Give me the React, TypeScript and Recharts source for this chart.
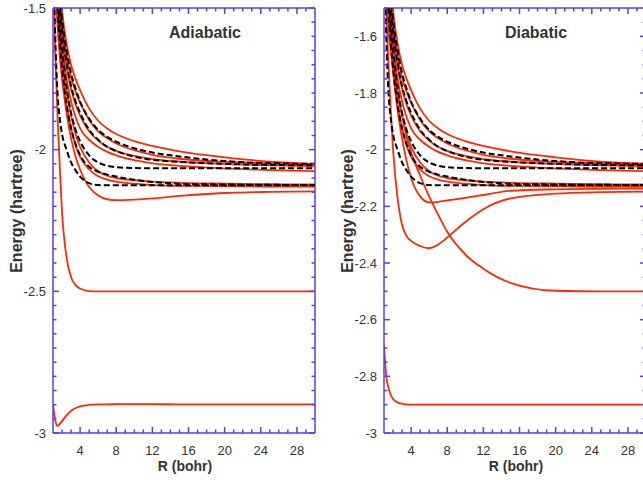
import { LineChart, Line, XAxis, YAxis, ReferenceLine } from 'recharts'

// internuclear distance grid (bohr)
const R = [1, 1.25, 1.5, 1.75, 2, 2.5, 3, 3.5, 4, 5, 6, 7, 8, 10, 12, 15, 20, 25, 30]

// adiabatic-only red curves
const adiaGround = [-2.9, -2.955, -2.975, -2.968, -2.958, -2.938, -2.922, -2.912, -2.906, -2.901, -2.899, -2.899, -2.898, -2.898, -2.898, -2.899, -2.899, -2.899, -2.899]
const adiaIonic = [-1.35, -1.66, -1.88, -2.06, -2.22, -2.38, -2.45, -2.478, -2.49, -2.499, -2.5, -2.5, -2.5, -2.5, -2.5, -2.5, -2.5, -2.5, -2.5]
const adiaWell = [-1.25, -1.42, -1.56, -1.67, -1.75, -1.87, -1.96, -2.025, -2.07, -2.132, -2.162, -2.175, -2.178, -2.176, -2.172, -2.163, -2.153, -2.149, -2.147]

// diabatic-only red curves
const diaGround = [-2.69, -2.8, -2.84, -2.865, -2.88, -2.892, -2.897, -2.899, -2.9, -2.9, -2.9, -2.9, -2.9, -2.9, -2.9, -2.9, -2.9, -2.9, -2.9]
const diaIonic = [-1.3, -1.45, -1.575, -1.65, -1.7, -1.8, -1.88, -1.955, -2.01, -2.092, -2.165, -2.23, -2.29, -2.37, -2.42, -2.47, -2.498, -2.5, -2.5]
const diaDeep = [-1.25, -1.5, -1.7, -1.86, -2.0, -2.17, -2.265, -2.305, -2.322, -2.34, -2.348, -2.335, -2.31, -2.255, -2.21, -2.172, -2.155, -2.15, -2.148]
const diaWell = [-1.2, -1.38, -1.52, -1.63, -1.72, -1.86, -1.96, -2.04, -2.1, -2.165, -2.186, -2.184, -2.179, -2.17, -2.16, -2.145, -2.14, -2.138, -2.137]

// red curves common to both panels
const upperA1 = [-0.95, -1.15, -1.3, -1.42, -1.51, -1.625, -1.7, -1.75, -1.79, -1.855, -1.898, -1.925, -1.945, -1.97, -1.987, -2.006, -2.027, -2.042, -2.05]
const upperA2 = [-0.98, -1.18, -1.33, -1.46, -1.55, -1.665, -1.745, -1.795, -1.835, -1.895, -1.935, -1.96, -1.978, -2.002, -2.018, -2.032, -2.043, -2.048, -2.051]
const upperA3 = [-1.02, -1.22, -1.37, -1.5, -1.59, -1.705, -1.785, -1.84, -1.88, -1.935, -1.968, -1.99, -2.004, -2.022, -2.033, -2.042, -2.05, -2.055, -2.058]
const upperA4 = [-1.08, -1.27, -1.42, -1.54, -1.63, -1.75, -1.83, -1.885, -1.925, -1.965, -1.99, -2.008, -2.02, -2.037, -2.048, -2.057, -2.066, -2.072, -2.076]
const upperB1 = [-1.15, -1.33, -1.47, -1.58, -1.67, -1.79, -1.88, -1.945, -1.99, -2.045, -2.076, -2.092, -2.1, -2.108, -2.113, -2.117, -2.12, -2.122, -2.123]
const upperB2 = [-1.2, -1.38, -1.52, -1.63, -1.72, -1.84, -1.925, -1.985, -2.025, -2.07, -2.094, -2.106, -2.113, -2.12, -2.125, -2.128, -2.129, -2.13, -2.13]

// black dashed curves (same in both panels)
const refA1 = [-0.98, -1.17, -1.32, -1.45, -1.54, -1.65, -1.73, -1.785, -1.83, -1.89, -1.93, -1.955, -1.972, -1.995, -2.01, -2.024, -2.04, -2.048, -2.05]
const refA2 = [-1.03, -1.23, -1.38, -1.5, -1.58, -1.695, -1.775, -1.83, -1.87, -1.93, -1.965, -1.99, -2.005, -2.025, -2.036, -2.043, -2.05, -2.054, -2.055]
const refA3 = [-1.1, -1.3, -1.45, -1.56, -1.64, -1.78, -1.87, -1.93, -1.97, -2.02, -2.045, -2.057, -2.062, -2.065, -2.066, -2.066, -2.066, -2.066, -2.066]
const refB1 = [-1.25, -1.6, -1.8, -1.89, -1.945, -2.0, -2.045, -2.073, -2.095, -2.118, -2.125, -2.126, -2.126, -2.126, -2.126, -2.126, -2.126, -2.126, -2.126]
const refB2 = [-1.15, -1.35, -1.5, -1.62, -1.71, -1.84, -1.925, -1.98, -2.02, -2.06, -2.078, -2.088, -2.095, -2.106, -2.114, -2.12, -2.123, -2.124, -2.125]

const xLabels = [4, 8, 12, 16, 20, 24, 28]
const adiaYLabels = ['-3', '-2.5', '-2', '-1.5']
const diaYLabels = ['-3', '-2.8', '-2.6', '-2.4', '-2.2', '-2', '-1.8', '-1.6']

const xTicks = Array.from({ length: 28 }, (_, i) => i + 2)
const yTicks = Array.from({ length: 31 }, (_, i) => Math.round((-3 + i * 0.05) * 100) / 100)

const AXIS = '#5b3cf2'
const RED = '#ff2a00'
const TEXT = '#333'

const W = 330
const H = 480
const TOP = 8
const LEFT = 53
const RIGHT_M = 15
const XH = 47
const PLOT_R = W - RIGHT_M
const PLOT_B = H - XH

interface Curve {
  key: string
  values: number[]
  dashed?: boolean
}

function Panel({ curves, yLabels }: { curves: Curve[]; yLabels: string[] }) {
  const rows = R.map((r, i) => {
    const row: Record<string, number> = { r }
    curves.forEach((c) => { row[c.key] = c.values[i] })
    return row
  })
  const labelVals = yLabels.map(Number)

  const xTick = (props: any) => {
    const x = props.payload.coordinate
    const v = props.payload.value
    const major = xLabels.includes(v)
    const len = major ? 6 : 3.5
    return (
      <g>
        <line x1={x} x2={x} y1={PLOT_B} y2={PLOT_B - len} stroke={AXIS} strokeWidth={1.5} />
        <line x1={x} x2={x} y1={TOP} y2={TOP + len} stroke={AXIS} strokeWidth={1.5} />
        {major && (
          <text x={x} y={455} textAnchor="middle" fill={TEXT} fontSize={13}>{v}</text>
        )}
      </g>
    )
  }

  const yTick = (props: any) => {
    const y = props.payload.coordinate
    const v = props.payload.value
    const idx = labelVals.findIndex((m) => Math.abs(m - v) < 1e-6)
    const len = idx >= 0 ? 6 : 3.5
    return (
      <g>
        <line x1={LEFT} x2={LEFT + len} y1={y} y2={y} stroke={AXIS} strokeWidth={1.5} />
        <line x1={PLOT_R} x2={PLOT_R - len} y1={y} y2={y} stroke={AXIS} strokeWidth={1.5} />
        {idx >= 0 && (
          <text x={LEFT - 7} y={y} dy="0.35em" textAnchor="end" fill={TEXT} fontSize={13}>{yLabels[idx]}</text>
        )}
      </g>
    )
  }

  return (
    <LineChart width={W} height={H} data={rows} margin={{ top: TOP, right: RIGHT_M, bottom: 0, left: 0 }}>
      <XAxis
        dataKey="r" type="number" domain={[1, 30]} allowDataOverflow
        ticks={xTicks} interval={0} height={XH}
        tickSize={0} tickMargin={0} tickLine={false}
        axisLine={{ stroke: AXIS, strokeWidth: 1.5 }}
        tick={xTick}
      />
      <YAxis
        type="number" domain={[-3, -1.5]} allowDataOverflow
        ticks={yTicks} interval={0} width={LEFT}
        tickSize={0} tickMargin={0} tickLine={false}
        axisLine={{ stroke: AXIS, strokeWidth: 1.5 }}
        tick={yTick}
      />
      <ReferenceLine y={-1.5} stroke={AXIS} strokeWidth={1.5} />
      <ReferenceLine x={30} stroke={AXIS} strokeWidth={1.5} />
      {curves.filter((c) => !c.dashed).map((c) => (
        <Line key={c.key} dataKey={c.key} type="monotone" stroke={RED} strokeWidth={1.8} dot={false} activeDot={false} isAnimationActive={false} />
      ))}
      {curves.filter((c) => c.dashed).map((c) => (
        <Line key={c.key} dataKey={c.key} type="monotone" stroke="#000" strokeWidth={2} strokeDasharray="6 3" dot={false} activeDot={false} isAnimationActive={false} />
      ))}
    </LineChart>
  )
}

const shared: Curve[] = [
  { key: 'A1', values: upperA1 },
  { key: 'A2', values: upperA2 },
  { key: 'A3', values: upperA3 },
  { key: 'A4', values: upperA4 },
  { key: 'B1', values: upperB1 },
  { key: 'B2', values: upperB2 },
  { key: 'rA1', values: refA1, dashed: true },
  { key: 'rA2', values: refA2, dashed: true },
  { key: 'rA3', values: refA3, dashed: true },
  { key: 'rB1', values: refB1, dashed: true },
  { key: 'rB2', values: refB2, dashed: true },
]

const adiabatic: Curve[] = [
  { key: 'ground', values: adiaGround },
  { key: 'ionic', values: adiaIonic },
  { key: 'well', values: adiaWell },
  ...shared,
]

const diabatic: Curve[] = [
  { key: 'ground', values: diaGround },
  { key: 'ionic', values: diaIonic },
  { key: 'deep', values: diaDeep },
  { key: 'well', values: diaWell },
  ...shared,
]

export default function App() {
  const bold = { fontWeight: 700, fill: TEXT }
  return (
    <div style={{ position: 'absolute', left: 0, top: 0, width: 643, height: 480, overflow: 'hidden', background: '#fff', fontFamily: '"Liberation Sans", Arial, sans-serif' }}>
      <div style={{ position: 'absolute', left: 0, top: 0 }}>
        <Panel curves={adiabatic} yLabels={adiaYLabels} />
      </div>
      <div style={{ position: 'absolute', left: 331, top: 0 }}>
        <Panel curves={diabatic} yLabels={diaYLabels} />
      </div>
      <svg width={643} height={480} style={{ position: 'absolute', left: 0, top: 0, pointerEvents: 'none' }}>
        <text x={205} y={38} textAnchor="middle" fontSize={16} style={bold}>Adiabatic</text>
        <text x={536} y={38} textAnchor="middle" fontSize={16} style={bold}>Diabatic</text>
        <text x={185} y={471} textAnchor="middle" fontSize={14} style={bold}>R (bohr)</text>
        <text x={516} y={471} textAnchor="middle" fontSize={14} style={bold}>R (bohr)</text>
        <text x={22} y={211} textAnchor="middle" fontSize={16} transform="rotate(-90 22 211)" style={bold}>Energy (hartree)</text>
        <text x={353} y={211} textAnchor="middle" fontSize={16} transform="rotate(-90 353 211)" style={bold}>Energy (hartree)</text>
      </svg>
    </div>
  )
}
